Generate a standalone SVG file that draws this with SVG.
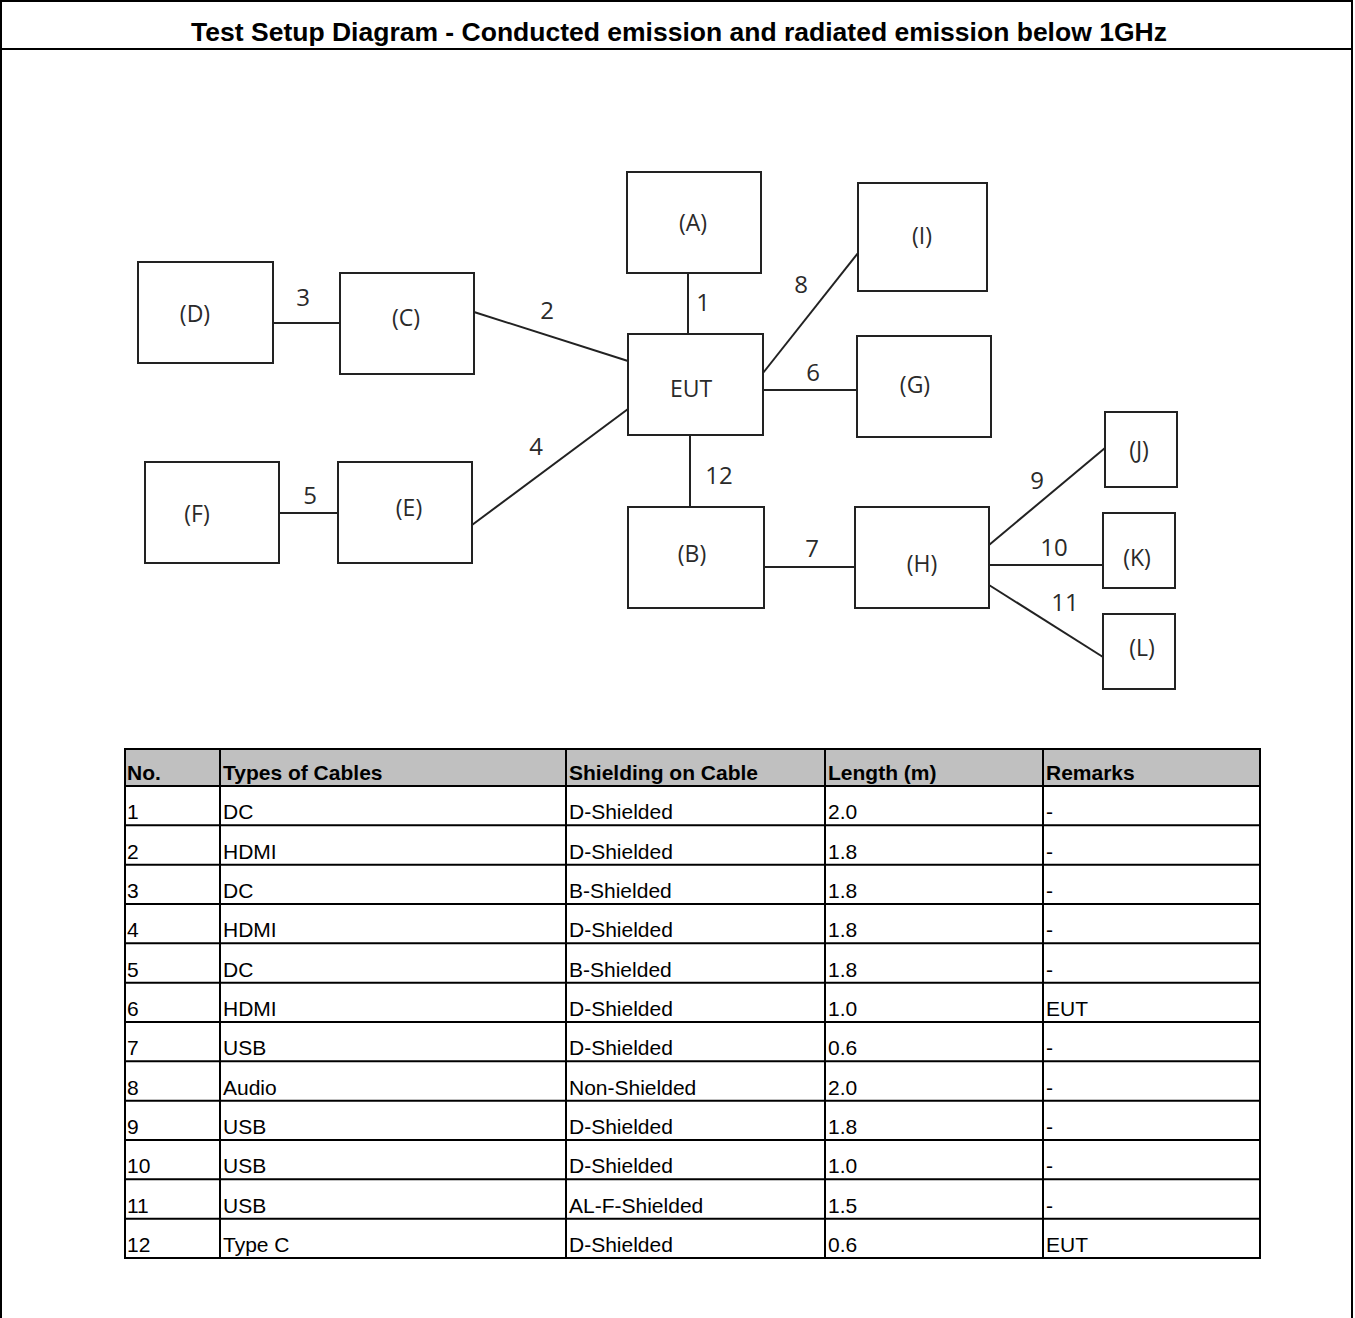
<svg xmlns="http://www.w3.org/2000/svg" width="1355" height="1318" viewBox="0 0 1355 1318">
<style>
.frame{fill:none;stroke:#000;stroke-width:2}
.box{fill:#fff;stroke:#222;stroke-width:2}
.wire{stroke:#222;stroke-width:2;fill:none}
.lbl{font-family:"Open Sans","DejaVu Sans",sans-serif;font-size:23px;fill:#2a2a2a;text-anchor:middle;dominant-baseline:central}
.num{font-family:"Open Sans","DejaVu Sans",sans-serif;font-size:24px;fill:#2a2a2a;text-anchor:middle;dominant-baseline:central}
.title{font-family:"Liberation Sans",Arial,sans-serif;font-size:26.5px;font-weight:bold;fill:#000;text-anchor:middle}
.th{font-family:"Liberation Sans",Arial,sans-serif;font-size:21px;font-weight:bold;fill:#000}
.td{font-family:"Liberation Sans",Arial,sans-serif;font-size:21px;fill:#000}
.grid{stroke:#000;stroke-width:2;fill:none}
</style>
<rect x="0" y="0" width="1355" height="1318" fill="#fff"/>
<rect class="frame" x="1" y="1" width="1351" height="1340"/>
<line class="frame" x1="1" y1="49" x2="1352" y2="49"/>
<text class="title" x="679" y="41">Test Setup Diagram - Conducted emission and radiated emission below 1GHz</text>

<g id="connectors">
<line class="wire" x1="688" y1="273" x2="688" y2="334"/>
<line class="wire" x1="474" y1="312" x2="628" y2="361"/>
<line class="wire" x1="273" y1="323" x2="340" y2="323"/>
<line class="wire" x1="472" y1="525" x2="628" y2="409"/>
<line class="wire" x1="279" y1="513" x2="338" y2="513"/>
<line class="wire" x1="763" y1="390" x2="857" y2="390"/>
<line class="wire" x1="764" y1="567" x2="855" y2="567"/>
<line class="wire" x1="763" y1="373" x2="858" y2="253"/>
<line class="wire" x1="989" y1="545" x2="1105" y2="448"/>
<line class="wire" x1="989" y1="565" x2="1103" y2="565"/>
<line class="wire" x1="989" y1="585" x2="1103" y2="657"/>
<line class="wire" x1="690" y1="435" x2="690" y2="507"/>
<text class="num" x="703" y="301">1</text>
<text class="num" x="547" y="309">2</text>
<text class="num" x="303" y="296">3</text>
<text class="num" x="536" y="445">4</text>
<text class="num" x="310" y="494">5</text>
<text class="num" x="813" y="371">6</text>
<text class="num" x="812" y="547">7</text>
<text class="num" x="801" y="283">8</text>
<text class="num" x="1037" y="479">9</text>
<text class="num" x="1054" y="546">10</text>
<text class="num" x="1065" y="601">11</text>
<text class="num" x="719" y="474">12</text>
</g>

<g id="node-A"><rect class="box" x="627" y="172" width="134" height="101"/><text class="lbl" x="693" y="222">(A)</text></g>
<g id="node-I"><rect class="box" x="858" y="183" width="129" height="108"/><text class="lbl" x="922" y="235">(I)</text></g>
<g id="node-D"><rect class="box" x="138" y="262" width="135" height="101"/><text class="lbl" x="195" y="313">(D)</text></g>
<g id="node-C"><rect class="box" x="340" y="273" width="134" height="101"/><text class="lbl" x="406" y="317">(C)</text></g>
<g id="node-EUT"><rect class="box" x="628" y="334" width="135" height="101"/><text class="lbl" x="691" y="388">EUT</text></g>
<g id="node-G"><rect class="box" x="857" y="336" width="134" height="101"/><text class="lbl" x="915" y="384">(G)</text></g>
<g id="node-J"><rect class="box" x="1105" y="412" width="72" height="75"/><text class="lbl" x="1139" y="449">(J)</text></g>
<g id="node-F"><rect class="box" x="145" y="462" width="134" height="101"/><text class="lbl" x="197" y="513">(F)</text></g>
<g id="node-E"><rect class="box" x="338" y="462" width="134" height="101"/><text class="lbl" x="409" y="507">(E)</text></g>
<g id="node-B"><rect class="box" x="628" y="507" width="136" height="101"/><text class="lbl" x="692" y="553">(B)</text></g>
<g id="node-H"><rect class="box" x="855" y="507" width="134" height="101"/><text class="lbl" x="922" y="563">(H)</text></g>
<g id="node-K"><rect class="box" x="1103" y="513" width="72" height="75"/><text class="lbl" x="1137" y="557">(K)</text></g>
<g id="node-L"><rect class="box" x="1103" y="614" width="72" height="75"/><text class="lbl" x="1142" y="647">(L)</text></g>

<g id="table">
<rect x="125" y="749" width="1135" height="37" fill="#c0c0c0"/>
<rect class="grid" x="125" y="749" width="1135" height="509"/>
<line class="grid" x1="125" y1="786" x2="1260" y2="786"/>
<line class="grid" x1="125" y1="825.33" x2="1260" y2="825.33"/>
<line class="grid" x1="125" y1="864.67" x2="1260" y2="864.67"/>
<line class="grid" x1="125" y1="904" x2="1260" y2="904"/>
<line class="grid" x1="125" y1="943.33" x2="1260" y2="943.33"/>
<line class="grid" x1="125" y1="982.67" x2="1260" y2="982.67"/>
<line class="grid" x1="125" y1="1022" x2="1260" y2="1022"/>
<line class="grid" x1="125" y1="1061.33" x2="1260" y2="1061.33"/>
<line class="grid" x1="125" y1="1100.67" x2="1260" y2="1100.67"/>
<line class="grid" x1="125" y1="1140" x2="1260" y2="1140"/>
<line class="grid" x1="125" y1="1179.33" x2="1260" y2="1179.33"/>
<line class="grid" x1="125" y1="1218.67" x2="1260" y2="1218.67"/>
<line class="grid" x1="220" y1="749" x2="220" y2="1258"/>
<line class="grid" x1="566" y1="749" x2="566" y2="1258"/>
<line class="grid" x1="825" y1="749" x2="825" y2="1258"/>
<line class="grid" x1="1043" y1="749" x2="1043" y2="1258"/>
<text class="th" x="127" y="780">No.</text>
<text class="th" x="223" y="780">Types of Cables</text>
<text class="th" x="569" y="780">Shielding on Cable</text>
<text class="th" x="828" y="780">Length (m)</text>
<text class="th" x="1046" y="780">Remarks</text>

<g class="td">
<text x="127" y="819.3">1</text><text x="223" y="819.3">DC</text><text x="569" y="819.3">D-Shielded</text><text x="828" y="819.3">2.0</text><text x="1046" y="819.3">-</text>
<text x="127" y="858.7">2</text><text x="223" y="858.7">HDMI</text><text x="569" y="858.7">D-Shielded</text><text x="828" y="858.7">1.8</text><text x="1046" y="858.7">-</text>
<text x="127" y="898">3</text><text x="223" y="898">DC</text><text x="569" y="898">B-Shielded</text><text x="828" y="898">1.8</text><text x="1046" y="898">-</text>
<text x="127" y="937.3">4</text><text x="223" y="937.3">HDMI</text><text x="569" y="937.3">D-Shielded</text><text x="828" y="937.3">1.8</text><text x="1046" y="937.3">-</text>
<text x="127" y="976.7">5</text><text x="223" y="976.7">DC</text><text x="569" y="976.7">B-Shielded</text><text x="828" y="976.7">1.8</text><text x="1046" y="976.7">-</text>
<text x="127" y="1016">6</text><text x="223" y="1016">HDMI</text><text x="569" y="1016">D-Shielded</text><text x="828" y="1016">1.0</text><text x="1046" y="1016">EUT</text>
<text x="127" y="1055.3">7</text><text x="223" y="1055.3">USB</text><text x="569" y="1055.3">D-Shielded</text><text x="828" y="1055.3">0.6</text><text x="1046" y="1055.3">-</text>
<text x="127" y="1094.7">8</text><text x="223" y="1094.7">Audio</text><text x="569" y="1094.7">Non-Shielded</text><text x="828" y="1094.7">2.0</text><text x="1046" y="1094.7">-</text>
<text x="127" y="1134">9</text><text x="223" y="1134">USB</text><text x="569" y="1134">D-Shielded</text><text x="828" y="1134">1.8</text><text x="1046" y="1134">-</text>
<text x="127" y="1173.3">10</text><text x="223" y="1173.3">USB</text><text x="569" y="1173.3">D-Shielded</text><text x="828" y="1173.3">1.0</text><text x="1046" y="1173.3">-</text>
<text x="127" y="1212.7">11</text><text x="223" y="1212.7">USB</text><text x="569" y="1212.7">AL-F-Shielded</text><text x="828" y="1212.7">1.5</text><text x="1046" y="1212.7">-</text>
<text x="127" y="1252">12</text><text x="223" y="1252">Type C</text><text x="569" y="1252">D-Shielded</text><text x="828" y="1252">0.6</text><text x="1046" y="1252">EUT</text>
</g>
</g>
</svg>
